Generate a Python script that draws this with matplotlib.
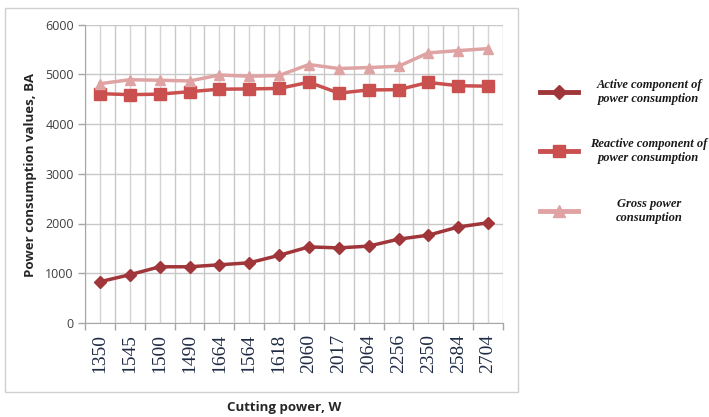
import matplotlib
matplotlib.use("Agg")
import matplotlib.pyplot as plt
from matplotlib.lines import Line2D
from matplotlib.patches import Rectangle

# Cutting power categories (W) and power consumption series (BA)
cutting_power = ["1350", "1545", "1500", "1490", "1664", "1564", "1618",
                 "2060", "2017", "2064", "2256", "2350", "2584", "2704"]
active = [830, 970, 1130, 1130, 1170, 1210, 1360,
          1530, 1510, 1545, 1685, 1765, 1930, 2015]
reactive = [4610, 4590, 4600, 4650, 4700, 4705, 4715,
            4840, 4620, 4685, 4690, 4835, 4770, 4760]
gross = [4810, 4890, 4880, 4865, 4985, 4960, 4975,
         5195, 5115, 5135, 5160, 5430, 5475, 5515]
y_ticks = [0, 1000, 2000, 3000, 4000, 5000, 6000]

series_labels = ["Active component of\npower consumption",
                 "Reactive component of\npower consumption",
                 "Gross power\nconsumption"]
colors = ["#A0353A", "#C9504E", "#DFA3A3"]
markers = ["D", "s", "^"]
msizes = [6, 8, 7.5]

W, H = 709, 417
fig = plt.figure(figsize=(W / 100, H / 100), dpi=100)
fig.patch.set_facecolor("white")

# outer chart frame
fig.add_artist(Rectangle((5 / W, 1 - 392 / H), (518 - 5) / W, (392 - 8) / H,
                         transform=fig.transFigure, fill=False,
                         edgecolor="#D0D0D0", linewidth=1.0))

ax = fig.add_axes([85 / W, 1 - 323 / H, (503 - 85) / W, (323 - 24.5) / H])
x = list(range(len(cutting_power)))

series = [active, reactive, gross]
for vals, c, m, ms in zip(series, colors, markers, msizes):
    ax.plot(x, vals, color=c, marker=m, markersize=ms, linewidth=2.5, zorder=3)

ax.set_xlim(-0.5, len(x) - 0.5)
ax.set_ylim(0, 6000)
ax.set_yticks(y_ticks)
ax.set_yticklabels([str(v) for v in y_ticks], fontfamily="Open Sans",
                   fontsize=9, color="#404040")

# category boundaries carry tick marks; gridlines at centres and boundaries
bounds = [i - 0.5 for i in range(len(x) + 1)]
ax.set_xticks(bounds)
ax.set_xticklabels([])
ax.set_xticks(x, minor=True)
ax.set_xticklabels(cutting_power, minor=True, rotation=90, fontfamily="Liberation Serif",
                   fontsize=14, color="#1F2A44")
ax.tick_params(axis="x", which="major", length=5, color="#A6A6A6", width=1)
ax.tick_params(axis="x", which="minor", length=0, pad=8)
ax.tick_params(axis="y", length=5, color="#A6A6A6", width=1, pad=3)

ax.grid(True, which="major", axis="both", color="#C8C8C8", linewidth=1.0)
ax.grid(True, which="minor", axis="x", color="#D4D4D4", linewidth=1.0)
ax.set_axisbelow(True)
for side in ["top", "right"]:
    ax.spines[side].set_visible(False)
ax.spines["left"].set_color("#A6A6A6")
ax.spines["bottom"].set_color("#A6A6A6")

fig.text(31 / W, 1 - 175 / H, "Power consumption values, BA", rotation=90,
         ha="center", va="center", fontfamily="Open Sans", fontweight="bold",
         fontsize=9.5, color="#262626")
fig.text(284 / W, 1 - 407 / H, "Cutting power, W", ha="center", va="center",
         fontfamily="Open Sans", fontweight="bold", fontsize=9.5, color="#262626")

# legend drawn to the right of the chart frame
legend_y = [92, 151, 211]
for yy, lab, c, m, ms in zip(legend_y, series_labels, colors, markers, msizes):
    fy = 1 - yy / H
    fig.add_artist(Line2D([540 / W, 578 / W], [fy, fy], transform=fig.transFigure,
                          color=c, linewidth=3.5))
    fig.add_artist(Line2D([559 / W], [fy], transform=fig.transFigure, color=c,
                          marker=m, markersize=ms + 1, linestyle="none"))
    fig.text(649 / W, fy, lab, ha="center", va="center", multialignment="center",
             fontfamily="Liberation Serif", fontstyle="italic", fontweight="bold",
             fontsize=9, color="#1A1A1A", linespacing=1.2)

fig.savefig("out.png", dpi=100, facecolor="white")
